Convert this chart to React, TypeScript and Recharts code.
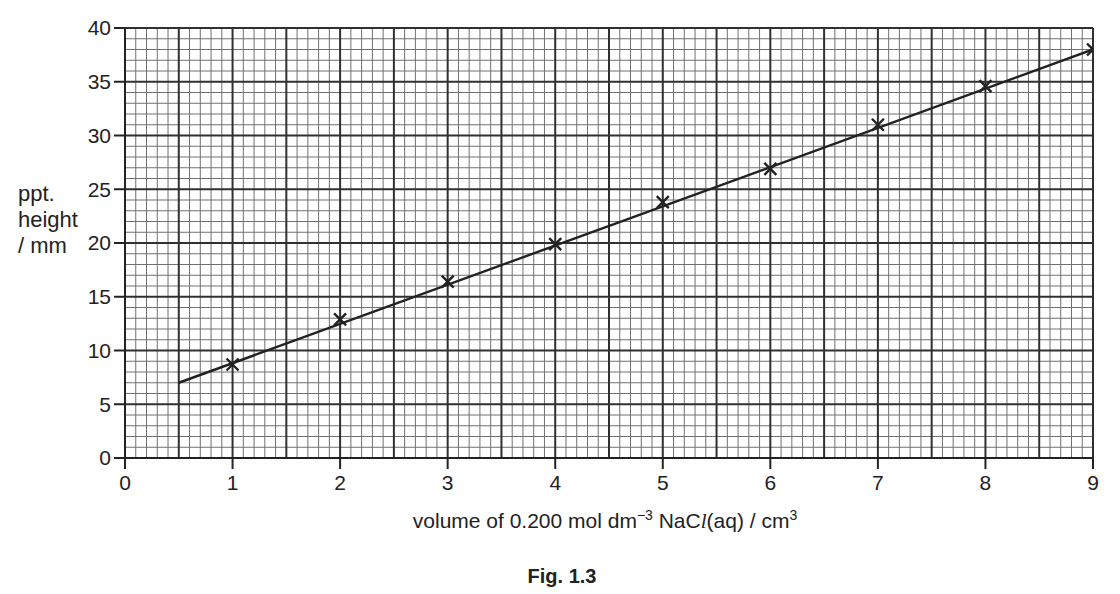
import React from "react";
import {
  ComposedChart,
  XAxis,
  YAxis,
  Scatter,
  Line,
  ReferenceLine,
  Label,
} from "recharts";

const volumes = [1, 2, 3, 4, 5, 6, 7, 8, 9];
const heights = [8.7, 12.9, 16.4, 19.9, 23.8, 26.9, 31.0, 34.6, 38.0];
const lineX = [0.5, 9];
const lineY = [7, 38];
const xTicks = [0, 1, 2, 3, 4, 5, 6, 7, 8, 9];
const yTicks = [0, 5, 10, 15, 20, 25, 30, 35, 40];

const points = volumes.map((v, i) => ({ x: v, y: heights[i] }));
const bestFit = lineX.map((v, i) => ({ x: v, y: lineY[i] }));

const minorX: number[] = [];
const majorX: number[] = [];
for (let i = 1; i <= 90; i++) {
  if (i % 5 === 0) majorX.push(i / 10);
  else minorX.push(i / 10);
}
const minorY: number[] = [];
const majorY: number[] = [];
for (let i = 1; i <= 40; i++) {
  if (i % 5 === 0) majorY.push(i);
  else minorY.push(i);
}

const FONT = "'Liberation Sans', Arial, Helvetica, sans-serif";
const INK = "#222";

const Cross = (props: any) => {
  const { cx, cy } = props;
  const s = 6;
  return (
    <path
      d={`M${cx - s},${cy - s}L${cx + s},${cy + s}M${cx - s},${cy + s}L${cx + s},${cy - s}`}
      stroke={INK}
      strokeWidth={2.4}
      fill="none"
    />
  );
};

const YTitle = () => (
  <text fontFamily={FONT} fontSize={22} fill={INK}>
    <tspan x={10} y={193}>ppt.</tspan>
    <tspan x={10} y={219}>height</tspan>
    <tspan x={10} y={245}>/ mm</tspan>
  </text>
);

const XTitle = () => (
  <g fontFamily={FONT} fill={INK}>
    <text x={597} y={520} textAnchor="middle" fontSize={21}>
      volume of 0.200 mol dm
      <tspan dy={-8} fontSize={14}>−3</tspan>
      <tspan dy={8}> NaC</tspan>
      <tspan fontStyle="italic" fontFamily="'Liberation Serif', serif">l</tspan>
      <tspan>(aq) / cm</tspan>
      <tspan dy={-8} fontSize={14}>3</tspan>
    </text>
    <text x={554} y={575} textAnchor="middle" fontSize={20} fontWeight="bold">
      Fig. 1.3
    </text>
  </g>
);

export default function App() {
  return (
    <div style={{ width: 1104, height: 586, background: "#fff" }}>
      <ComposedChart
        width={1104}
        height={586}
        margin={{ top: 20, right: 19, left: 0, bottom: 96 }}
      >
        <XAxis
          type="number"
          dataKey="x"
          domain={[0, 9]}
          ticks={xTicks}
          allowDataOverflow
          height={40}
          tickSize={11}
          tickMargin={6}
          axisLine={{ stroke: INK, strokeWidth: 2 }}
          tickLine={{ stroke: INK, strokeWidth: 2 }}
          tick={{ fill: INK, fontSize: 21, fontFamily: FONT }}
        >
          <Label content={<XTitle />} />
        </XAxis>
        <YAxis
          type="number"
          dataKey="y"
          domain={[0, 40]}
          ticks={yTicks}
          allowDataOverflow
          width={117}
          tickSize={11}
          tickMargin={3}
          axisLine={{ stroke: INK, strokeWidth: 2 }}
          tickLine={{ stroke: INK, strokeWidth: 2 }}
          tick={{ fill: INK, fontSize: 21, fontFamily: FONT }}
        >
          <Label content={<YTitle />} />
        </YAxis>
        {minorX.map((v) => (
          <ReferenceLine key={`mx${v}`} x={v} stroke="#707070" strokeWidth={1} />
        ))}
        {minorY.map((v) => (
          <ReferenceLine key={`my${v}`} y={v} stroke="#707070" strokeWidth={1} />
        ))}
        {majorX.map((v) => (
          <ReferenceLine key={`Mx${v}`} x={v} stroke="#303030" strokeWidth={2} />
        ))}
        {majorY.map((v) => (
          <ReferenceLine key={`My${v}`} y={v} stroke="#303030" strokeWidth={2} />
        ))}
        <Line
          data={bestFit}
          dataKey="y"
          stroke={INK}
          strokeWidth={2.4}
          dot={false}
          activeDot={false}
          isAnimationActive={false}
        />
        <Scatter
          data={points}
          dataKey="y"
          shape={<Cross />}
          isAnimationActive={false}
        />
      </ComposedChart>
    </div>
  );
}
